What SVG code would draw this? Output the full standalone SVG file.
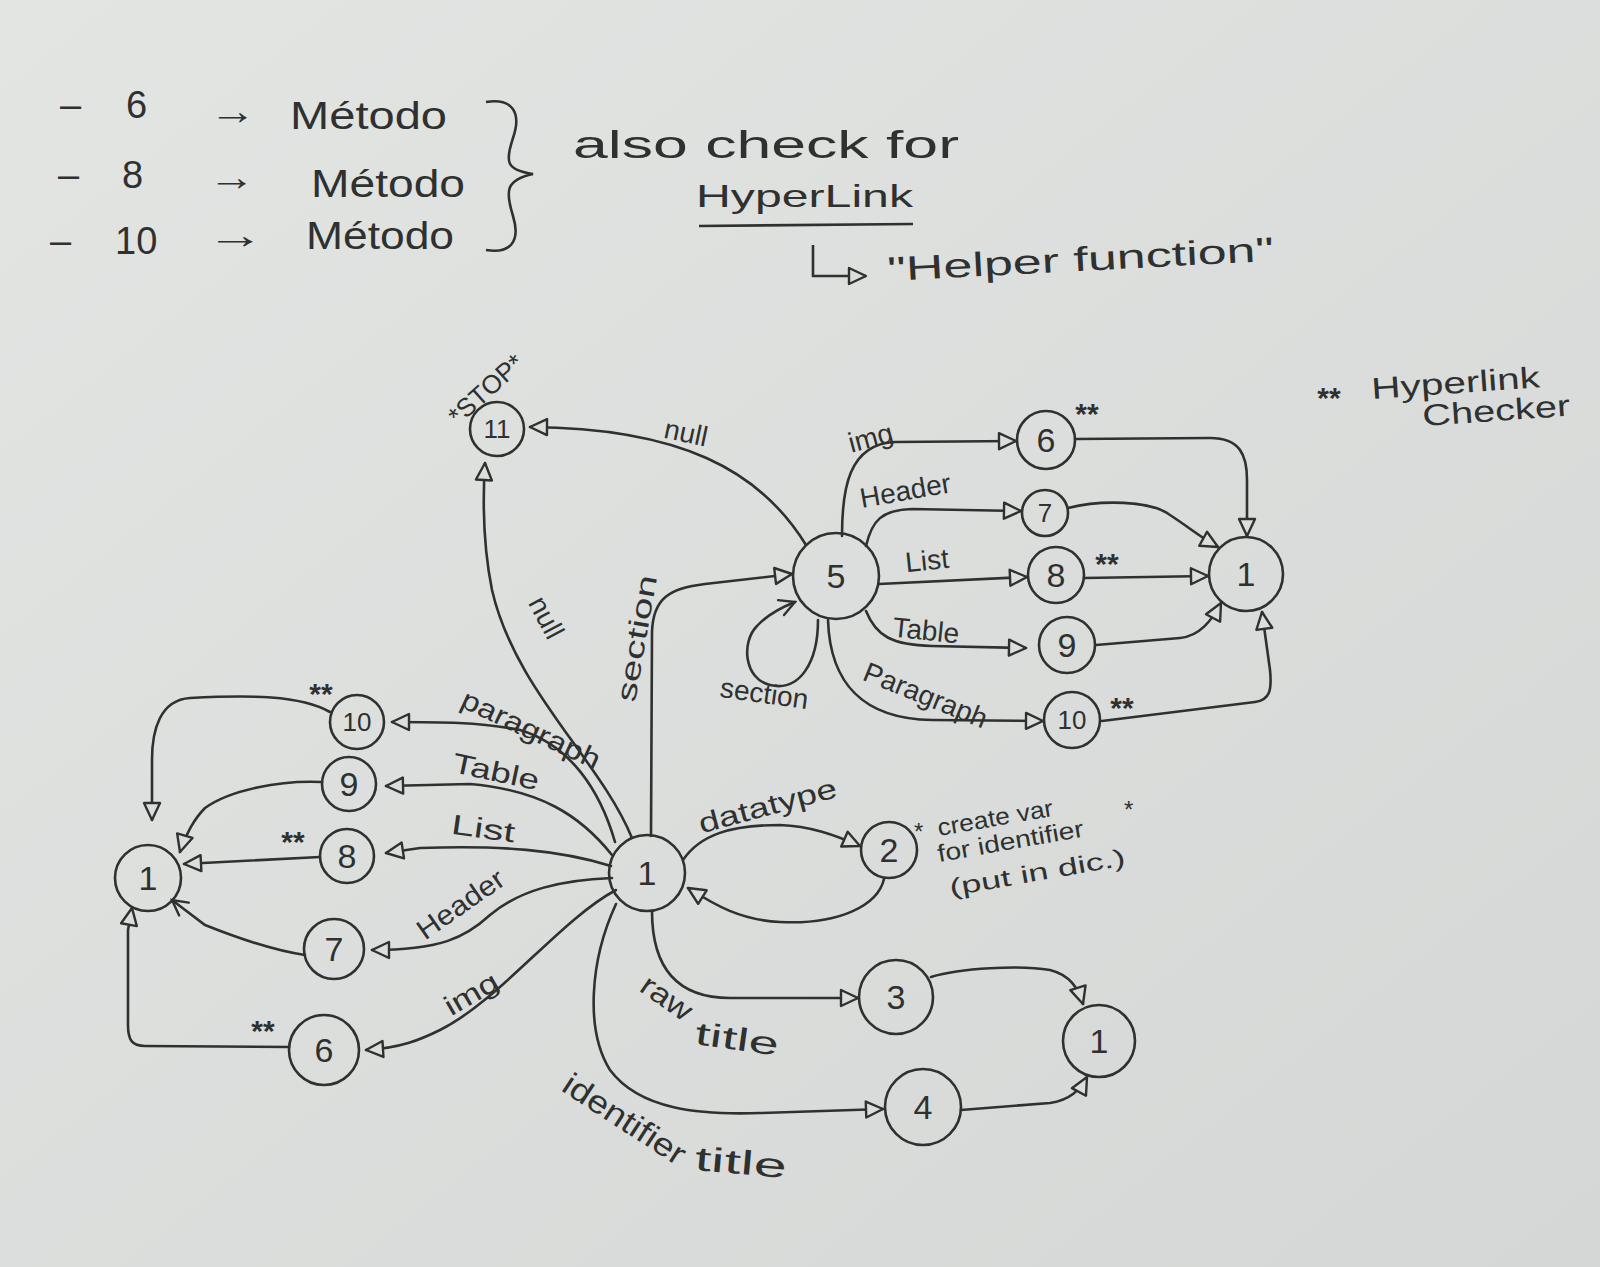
<svg xmlns="http://www.w3.org/2000/svg" width="1600" height="1267" viewBox="0 0 1600 1267">
<defs>
<linearGradient id="paper" x1="0" y1="0" x2="1" y2="1">
<stop offset="0" stop-color="#e3e5e3"/>
<stop offset="1" stop-color="#d4d7d5"/>
</linearGradient>
<marker id="tri" viewBox="0 0 22 22" refX="20" refY="11" markerWidth="22" markerHeight="22" markerUnits="userSpaceOnUse" orient="auto">
<path d="M3,3 L20,11 L3,19 Z" fill="#dcdedc" stroke="#2f3130" stroke-width="2.4" stroke-linejoin="round"/>
</marker>
<marker id="chev" viewBox="0 0 22 22" refX="19" refY="11" markerWidth="22" markerHeight="22" markerUnits="userSpaceOnUse" orient="auto">
<path d="M4,3 L19,11 L4,19" fill="none" stroke="#2f3130" stroke-width="2.4" stroke-linecap="round"/>
</marker>
</defs>
<style>
text{font-family:"Liberation Sans","Noto Sans",sans-serif;fill:#2f3130}
.node{fill:none;stroke:#2f3130;stroke-width:2.6}
.num{font-size:34px;text-anchor:middle;dominant-baseline:central}
.sm{font-size:26px}
.edge{fill:none;stroke:#2f3130;stroke-width:2.6;stroke-linecap:round;marker-end:url(#tri)}
.ch{marker-end:url(#chev)}
.lbl{font-size:28px;text-anchor:middle}
.note{font-size:38px}
.star{font-size:30px;font-weight:bold;text-anchor:middle}
</style>
<rect width="1600" height="1267" fill="url(#paper)"/>

<g id="notes">
<text class="note" y="118"><tspan x="60">–</tspan><tspan x="126">6</tspan></text>
<text class="note" x="209" y="124" textLength="47" lengthAdjust="spacingAndGlyphs">→</text>
<text class="note" x="290" y="129" textLength="157" lengthAdjust="spacingAndGlyphs">Método</text>
<text class="note" y="188"><tspan x="58">–</tspan><tspan x="122">8</tspan></text>
<text class="note" x="208" y="190" textLength="47" lengthAdjust="spacingAndGlyphs">→</text>
<text class="note" x="311" y="197" textLength="154" lengthAdjust="spacingAndGlyphs">Método</text>
<text class="note" y="254"><tspan x="50">–</tspan><tspan x="115">10</tspan></text>
<text class="note" x="206" y="248" textLength="58" lengthAdjust="spacingAndGlyphs">→</text>
<text class="note" x="306" y="249" textLength="148" lengthAdjust="spacingAndGlyphs">Método</text>
<path d="M486,102 C512,98 522,112 513,138 C505,162 506,170 533,174 C506,180 505,190 513,216 C521,242 510,254 486,250" fill="none" stroke="#2f3130" stroke-width="2.6"/>
<text class="note" x="573" y="158" textLength="386" lengthAdjust="spacingAndGlyphs">also check for</text>
<text x="696" y="207" font-size="32" textLength="217" lengthAdjust="spacingAndGlyphs">HyperLink</text>
<path d="M699,226 L913,224" stroke="#2f3130" stroke-width="2.6"/>
<path d="M813,245 L813,276 L866,276" fill="none" stroke="#2f3130" stroke-width="2.6" marker-end="url(#tri)"/>
<text x="888" y="281" font-size="34" transform="rotate(-3 888 281)" textLength="387" lengthAdjust="spacingAndGlyphs">"Helper function"</text>
<text class="star" x="1329" y="408">**</text>
<text x="1372" y="399" font-size="30" transform="rotate(-4 1372 399)" textLength="169" lengthAdjust="spacingAndGlyphs">Hyperlink</text>
<text x="1423" y="426" font-size="30" transform="rotate(-4 1423 426)" textLength="148" lengthAdjust="spacingAndGlyphs">Checker</text>
</g>

<g id="connectors">
<path class="edge" d="M806,545 C760,470 680,428 530,427"/>
<text class="lbl" x="684" y="442" font-size="30" transform="rotate(12 684 442)">null</text>
<path class="edge" d="M632,838 C600,760 515,690 492,590 C484,550 482,510 485,463"/>
<text class="lbl" x="538" y="622" font-size="30" transform="rotate(62 538 622)">null</text>
<path class="edge" d="M651,836 L652,632 C653,598 670,588 705,584 L792,574"/>
<text class="lbl" x="646" y="640" font-size="30" transform="rotate(-80 646 640)" textLength="128" lengthAdjust="spacingAndGlyphs">section</text>
<path class="edge ch" d="M818,620 C818,662 800,692 770,685 C744,679 741,642 757,626 C766,616 780,608 795,602"/>
<text class="lbl" x="763" y="703" font-size="24" transform="rotate(8 763 703)">section</text>
<path class="edge" d="M842,536 C842,490 848,444 895,442 L1016,441"/>
<text class="lbl" x="873" y="447" font-size="30" transform="rotate(-15 873 447)">img</text>
<path class="edge" d="M866,546 C872,520 882,510 912,509 L1021,511"/>
<text class="lbl" x="907" y="500" font-size="23" transform="rotate(-10 907 500)">Header</text>
<path class="edge" d="M879,584 L1027,577"/>
<text class="lbl" x="928" y="570" font-size="26" transform="rotate(-6 928 570)">List</text>
<path class="edge" d="M866,611 C876,636 892,645 932,646 L1026,648"/>
<text class="lbl" x="925" y="640" font-size="26" transform="rotate(6 925 640)">Table</text>
<path class="edge" d="M828,620 C830,682 862,719 932,720 L1043,721"/>
<text class="lbl" x="922" y="704" font-size="26" transform="rotate(22 922 704)">Paragraph</text>
<path class="edge" d="M1075,439 L1210,438 C1240,438 1247,455 1247,480 L1247,536"/>
<path class="edge" d="M1068,508 C1100,500 1150,500 1170,515 C1190,528 1200,537 1218,547"/>
<path class="edge" d="M1084,578 L1208,576"/>
<path class="edge" d="M1096,645 L1180,638 C1200,636 1212,620 1221,603"/>
<path class="edge" d="M1102,721 L1255,702 C1270,700 1272,690 1270,670 L1262,612"/>

<path class="edge" d="M615,842 C600,790 570,745 520,730 C480,722 440,722 392,722"/>
<text class="lbl" x="527" y="738" transform="rotate(25 527 738)" textLength="150" lengthAdjust="spacingAndGlyphs">paragraph</text>
<path class="edge" d="M612,855 C580,815 540,790 470,784 L386,786"/>
<text class="lbl" x="494" y="781" font-size="30" transform="rotate(12 494 781)" textLength="88" lengthAdjust="spacingAndGlyphs">Table</text>
<path class="edge" d="M611,866 C560,850 500,845 420,848 L386,853"/>
<text class="lbl" x="482" y="838" font-size="30" transform="rotate(8 482 838)" textLength="64" lengthAdjust="spacingAndGlyphs">List</text>
<path class="edge" d="M612,878 C560,880 520,890 490,915 C465,938 440,950 372,950"/>
<text class="lbl" x="466" y="912" font-size="26" transform="rotate(-35 466 912)" textLength="100" lengthAdjust="spacingAndGlyphs">Header</text>
<path class="edge" d="M616,890 C560,920 500,1000 440,1030 C420,1040 400,1048 366,1050"/>
<text class="lbl" x="476" y="1002" font-size="30" transform="rotate(-30 476 1002)" textLength="58" lengthAdjust="spacingAndGlyphs">img</text>
<path class="edge" d="M330,712 C300,695 250,695 190,698 C160,700 152,730 152,760 L152,820"/>
<path class="edge" d="M322,782 C280,780 230,790 205,808 C195,818 185,835 180,852"/>
<path class="edge" d="M320,857 L184,864"/>
<path class="edge ch" d="M305,955 C270,950 230,935 205,925 L172,900"/>
<path class="edge" d="M289,1047 L145,1046 C132,1046 128,1040 128,1025 L128,930 L132,908"/>

<path class="edge" d="M683,860 C700,835 730,825 780,825 C810,826 835,835 860,846"/>
<text class="lbl" x="770" y="815" font-size="30" transform="rotate(-15 770 815)" textLength="142" lengthAdjust="spacingAndGlyphs">datatype</text>
<path class="edge" d="M884,879 C878,905 840,925 780,922 C740,920 715,905 688,888"/>

<path class="edge" d="M652,911 C652,960 670,998 730,998 L858,998"/>
<text x="638" y="990" font-size="30" transform="rotate(35 638 990)" textLength="56" lengthAdjust="spacingAndGlyphs">raw</text>
<text x="694" y="1044" font-size="32" transform="rotate(8 694 1044)" textLength="84" lengthAdjust="spacingAndGlyphs">title</text>
<path class="edge" d="M616,904 C590,960 585,1030 610,1070 C640,1110 700,1115 760,1113 L883,1109"/>
<text x="560" y="1090" font-size="32" transform="rotate(33 560 1090)" textLength="140" lengthAdjust="spacingAndGlyphs">identifier</text>
<text x="694" y="1170" font-size="34" transform="rotate(5 694 1170)" textLength="92" lengthAdjust="spacingAndGlyphs">title</text>
<path class="edge" d="M931,977 C960,968 1020,965 1050,970 C1070,975 1078,988 1083,1004"/>
<path class="edge" d="M961,1110 L1050,1103 C1070,1100 1080,1090 1087,1077"/>
</g>

<g id="n11"><circle class="node" cx="497" cy="429" r="27"/><text class="num sm" x="497" y="429">11</text>
<text x="492" y="396" font-size="26" text-anchor="middle" transform="rotate(-42 492 396)">*STOP*</text></g>
<g id="n5"><circle class="node" cx="836" cy="576" r="43"/><text class="num" x="836" y="576" font-size="42">5</text></g>
<g id="n6t"><circle class="node" cx="1046" cy="440" r="29"/><text class="num" x="1046" y="440">6</text><text class="star" x="1087" y="424">**</text></g>
<g id="n7t"><circle class="node" cx="1045" cy="513" r="23"/><text class="num sm" x="1045" y="513">7</text></g>
<g id="n8t"><circle class="node" cx="1056" cy="575" r="28"/><text class="num" x="1056" y="575">8</text><text class="star" x="1107" y="574">**</text></g>
<g id="n9t"><circle class="node" cx="1067" cy="645" r="28"/><text class="num" x="1067" y="645">9</text></g>
<g id="n10t"><circle class="node" cx="1072" cy="720" r="28"/><text class="num sm" x="1072" y="720">10</text><text class="star" x="1122" y="718">**</text></g>
<g id="n1t"><circle class="node" cx="1246" cy="574" r="37"/><text class="num" x="1246" y="574" font-size="38">1</text></g>

<g id="n10l"><circle class="node" cx="357" cy="722" r="27"/><text class="num sm" x="357" y="722">10</text><text class="star" x="321" y="704">**</text></g>
<g id="n9l"><circle class="node" cx="349" cy="784" r="27"/><text class="num" x="349" y="784">9</text></g>
<g id="n8l"><circle class="node" cx="347" cy="856" r="27"/><text class="num" x="347" y="856">8</text><text class="star" x="293" y="852">**</text></g>
<g id="n7l"><circle class="node" cx="334" cy="949" r="30"/><text class="num" x="334" y="949">7</text></g>
<g id="n6l"><circle class="node" cx="324" cy="1050" r="35"/><text class="num" x="324" y="1050" font-size="40">6</text><text class="star" x="263" y="1041">**</text></g>
<g id="n1l"><circle class="node" cx="148" cy="878" r="33"/><text class="num" x="148" y="878" font-size="38">1</text></g>

<g id="n1c"><circle class="node" cx="647" cy="873" r="38"/><text class="num" x="647" y="873" font-size="40">1</text></g>
<g id="n2"><circle class="node" cx="889" cy="850" r="28"/><text class="num" x="889" y="850">2</text>
<text x="914" y="840" font-size="24">*</text>
<text x="939" y="836" font-size="24" transform="rotate(-10 939 836)" textLength="117" lengthAdjust="spacingAndGlyphs">create var</text>
<text x="1124" y="818" font-size="24">*</text>
<text x="939" y="862" font-size="24" transform="rotate(-10 939 862)" textLength="148" lengthAdjust="spacingAndGlyphs">for identifier</text>
<text x="951" y="896" font-size="24" transform="rotate(-10 951 896)" textLength="178" lengthAdjust="spacingAndGlyphs">(put in dic.)</text></g>
<g id="n3"><circle class="node" cx="896" cy="997" r="37"/><text class="num" x="896" y="997" font-size="40">3</text></g>
<g id="n4"><circle class="node" cx="923" cy="1107" r="38"/><text class="num" x="923" y="1107" font-size="40">4</text></g>
<g id="n1b"><circle class="node" cx="1099" cy="1041" r="36"/><text class="num" x="1099" y="1041" font-size="40">1</text></g>
</svg>
